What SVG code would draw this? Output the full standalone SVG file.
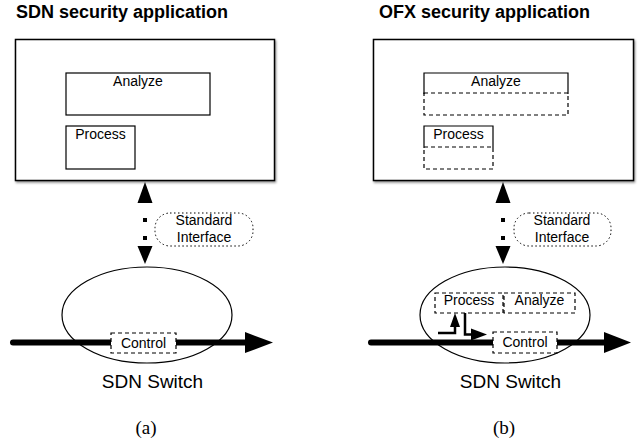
<svg xmlns="http://www.w3.org/2000/svg" width="642" height="444" viewBox="0 0 642 444">
<defs>
<filter id="sh" x="-5%" y="-5%" width="115%" height="115%">
<feDropShadow dx="1" dy="1.5" stdDeviation="1" flood-color="#000" flood-opacity="0.45"/>
</filter>
</defs>
<style>
text{font-family:"Liberation Sans",Arial,sans-serif;fill:#000}
.title{font-size:18px;font-weight:bold}
.lbl{font-size:14px;text-anchor:middle}
.sw{font-size:19px;text-anchor:middle}
.cap{font-family:"Liberation Serif","Times New Roman",serif;font-size:19px;text-anchor:middle}
.app{fill:#fff;stroke:#000;stroke-width:1.5}
.box{fill:#fff;stroke:#000;stroke-width:1.2}
.sol{fill:none;stroke:#000;stroke-width:1.2}
.dash{fill:#fff;stroke:#000;stroke-width:1.2;stroke-dasharray:4 3}
.dot{fill:#fff;stroke:#000;stroke-width:1;stroke-dasharray:1.5 2.5}
.ell{fill:none;stroke:#000;stroke-width:1.2}
.thick{stroke:#000;stroke-width:6;stroke-linecap:round;fill:none}
.ifc{stroke:#000;stroke-width:4;stroke-dasharray:4 14;fill:none}
.thin{stroke:#000;stroke-width:2.5;fill:none}
</style>

<!-- Panel (a) -->
<text id="title-a" class="title" x="16" y="18">SDN security application</text>
<g id="app-a">
<rect class="app" x="15.5" y="39.5" width="259" height="141" filter="url(#sh)"/>
</g>
<g id="analyze-a">
<rect class="box" x="66" y="73" width="144" height="42"/>
<text class="lbl" x="138" y="86">Analyze</text>
</g>
<g id="process-a">
<rect class="box" x="66" y="126" width="69" height="43"/>
<text class="lbl" x="100.5" y="139">Process</text>
</g>
<g id="iface-a">
<rect class="dot" x="155" y="213" width="98" height="33" rx="15"/>
<text class="lbl" x="204" y="225">Standard</text>
<text class="lbl" x="204" y="242">Interface</text>
</g>
<g id="switch-a">
<ellipse class="ell" cx="147" cy="315" rx="85" ry="48"/>
<text class="sw" x="152.5" y="388">SDN Switch</text>
</g>
<g id="connectors-a">
<line class="ifc" x1="145" y1="218" x2="145" y2="241"/>
<polygon points="145,182 137.5,203 152.5,203"/>
<polygon points="137.5,246 152.5,246 145,264"/>
<line class="thick" x1="13" y1="342.5" x2="246" y2="342.5"/>
<polygon points="245,332 273,342.5 245,353"/>
</g>
<g id="control-a">
<rect class="dash" x="111" y="333" width="65" height="20"/>
<text class="lbl" x="143.5" y="347.5">Control</text>
</g>
<text id="cap-a" class="cap" x="146" y="434">(a)</text>

<!-- Panel (b) -->
<text id="title-b" class="title" x="379" y="18">OFX security application</text>
<g id="app-b">
<rect class="app" x="373.5" y="39.5" width="260" height="141" filter="url(#sh)"/>
</g>
<g id="analyze-b">
<rect class="dash" x="424" y="93" width="144" height="22"/>
<path class="sol" d="M424,94 V73 H568 V94"/>
<text class="lbl" x="496" y="86">Analyze</text>
</g>
<g id="process-b">
<rect class="dash" x="424" y="147" width="69" height="22"/>
<path class="sol" d="M424,148 V126 H493 V148"/>
<text class="lbl" x="458.5" y="139">Process</text>
</g>
<g id="iface-b">
<rect class="dot" x="514" y="213" width="97" height="33" rx="15"/>
<text class="lbl" x="562" y="225">Standard</text>
<text class="lbl" x="562" y="242">Interface</text>
</g>
<g id="switch-b">
<ellipse class="ell" cx="505" cy="315" rx="85" ry="48"/>
<text class="sw" x="510.5" y="388">SDN Switch</text>
</g>
<g id="connectors-b">
<line class="ifc" x1="503" y1="218" x2="503" y2="241"/>
<polygon points="503,182 495.5,203 510.5,203"/>
<polygon points="495.5,246 510.5,246 503,264"/>
<line class="thick" x1="371" y1="342.5" x2="605" y2="342.5"/>
<polygon points="604,332 631,342.5 604,353"/>
<path class="thin" d="M438,333 H455 V325"/>
<polygon points="450,327 460,327 455,313"/>
<path class="thin" d="M465,313 V334.5 H472"/>
<polygon points="471,328.5 487,334.5 471,340.5"/>
</g>
<g id="process-sw">
<rect class="dash" x="435" y="293" width="68" height="20"/>
<text class="lbl" x="469" y="305">Process</text>
</g>
<g id="analyze-sw">
<rect class="dash" x="504" y="293" width="71" height="20"/>
<text class="lbl" x="539.5" y="305">Analyze</text>
</g>
<g id="control-b">
<rect class="dash" x="493" y="332" width="64" height="21"/>
<text class="lbl" x="525" y="347">Control</text>
</g>
<text id="cap-b" class="cap" x="504" y="434">(b)</text>
</svg>
